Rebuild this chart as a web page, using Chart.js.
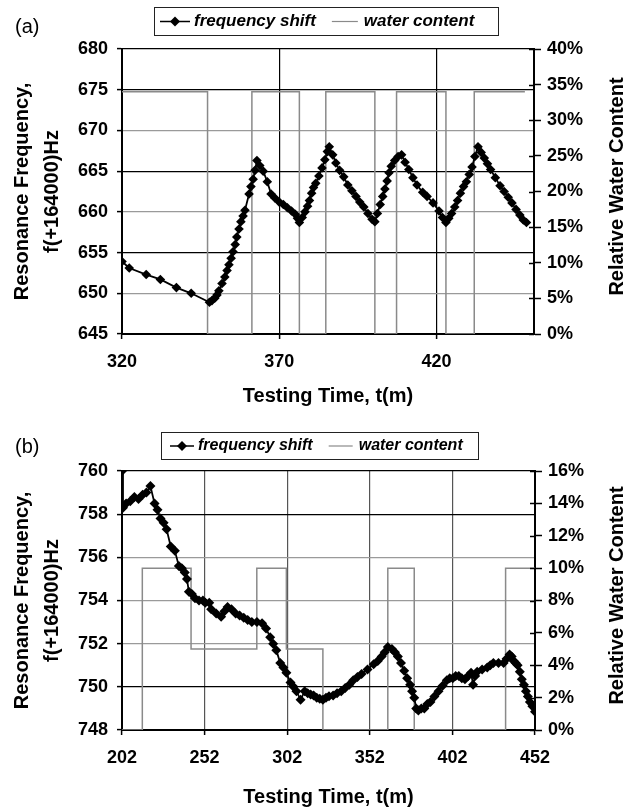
<!DOCTYPE html>
<html>
<head>
<meta charset="utf-8">
<script src="https://cdn.jsdelivr.net/npm/chart.js@4.4.1/dist/chart.umd.min.js"></script>
<style>
    html, body { margin: 0; padding: 0; background: #fff; }
    #wrapA { position: absolute; left: 0; top: 0; }
    #wrapB { position: absolute; left: 0; top: 410px; }
</style>
</head>
<body>
<div id="wrapA"><canvas id="chartA" width="637" height="410"></canvas></div>
<div id="wrapB"><canvas id="chartB" width="637" height="399"></canvas></div>
<script>
// ---------- DATA: PANEL (a) ----------
const timeA = [320.0, 322.3, 327.7, 332.2, 337.3, 342.0, 347.8, 348.6, 349.5, 350.2, 350.8, 351.8, 352.7, 353.4,
    354.0, 354.7, 355.3, 356.0, 356.5, 357.2, 357.8, 358.5, 359.1, 360.4, 361.0, 361.7, 362.3, 362.9, 363.8,
    364.9, 366.2, 367.4, 368.6, 370.0, 371.3, 372.6, 373.9, 375.1, 375.8, 376.4, 377.3, 378.2, 379.0, 379.6,
    380.3, 380.9, 381.6, 382.6, 383.6, 384.5, 385.3, 385.9, 387.0, 388.0, 389.2, 390.5, 391.8, 393.1, 394.4,
    395.6, 396.9, 398.2, 399.5, 400.4, 401.2, 402.1, 402.9, 403.6, 404.3, 404.9, 405.6, 406.7, 407.8, 408.9,
    410.0, 411.2, 412.5, 413.8, 415.6, 417.0, 418.9, 420.8, 421.9, 423.0, 423.9, 424.8, 425.8, 426.7, 427.6,
    428.6, 429.5, 430.4, 431.3, 432.2, 433.2, 434.2, 435.2, 436.2, 437.2, 438.7, 440.2, 441.5, 442.8, 444.0,
    445.3, 446.5, 447.6, 448.6];
const freqA = [653.9, 653.1, 652.3, 651.7, 650.7, 650.0, 648.9, 649.1, 649.4, 649.8, 650.3, 651.2, 652.0, 652.8,
    653.5, 654.3, 655.1, 656.0, 656.9, 657.9, 658.8, 659.5, 660.2, 662.2, 663.1, 664.0, 665.1, 666.3, 665.7,
    665.0, 663.7, 662.2, 661.7, 661.2, 660.9, 660.5, 660.1, 659.7, 659.2, 658.7, 659.3, 660.0, 660.7, 661.4,
    662.3, 663.0, 663.5, 664.4, 665.4, 666.4, 667.4, 668.0, 667.0, 666.0, 665.1, 664.3, 663.3, 662.6, 661.9,
    661.2, 660.6, 659.8, 659.1, 658.8, 659.8, 660.9, 661.9, 662.8, 663.8, 664.8, 665.6, 666.3, 666.8, 667.0,
    666.1, 665.2, 664.2, 663.3, 662.4, 661.9, 661.1, 660.1, 659.3, 658.7, 659.2, 659.8, 660.6, 661.4, 662.3,
    663.1, 663.7, 664.6, 665.5, 666.8, 668.0, 667.3, 666.6, 665.9, 665.2, 664.2, 663.2, 662.5, 661.8, 661.1,
    660.3, 659.6, 659.0, 658.7];
const waterTimeA = [320, 347.2, 361.3, 376.4, 384.8, 400.4, 407.3, 423.0, 432.0, 448.1];
const waterA = [34, 0, 34, 0, 34, 0, 34, 0, 34, 34];

const xTicksA = [320, 370, 420];
const yTicksA = [645, 650, 655, 660, 665, 670, 675, 680];
const y1TicksA = [0, 5, 10, 15, 20, 25, 30, 35, 40];
const xDarkA = [370, 420];
const yDarkA = [655, 665, 675, 680];

// ---------- DATA: PANEL (b) ----------
const timeB = [202.0, 202.6, 204.5, 207.0, 209.5, 212.0, 214.5, 216.8, 219.2, 221.7, 223.5, 225.3, 227.2, 229.0,
    231.5, 234.0, 236.4, 238.2, 240.0, 241.3, 242.5, 244.3, 246.2, 248.6, 251.0, 252.4, 254.8, 256.0, 259.0,
    262.0, 264.0, 265.9, 268.3, 270.8, 273.2, 275.7, 278.1, 280.6, 283.7, 286.8, 289.2, 291.7, 293.5, 295.4,
    297.8, 299.7, 301.5, 304.0, 305.8, 307.6, 310.1, 312.6, 314.4, 316.2, 318.0, 319.9, 321.7, 323.6, 325.5,
    327.3, 329.8, 332.2, 334.7, 337.1, 339.6, 342.0, 344.5, 347.0, 350.6, 354.3, 356.8, 359.2, 361.0, 362.9,
    365.4, 367.2, 369.0, 370.9, 372.8, 374.6, 376.4, 377.6, 378.9, 380.1, 381.4, 383.2, 385.0, 386.8, 388.7,
    391.1, 393.6, 396.1, 398.6, 400.4, 402.2, 404.0, 405.9, 407.7, 409.6, 411.5, 413.3, 414.5, 415.8, 417.0,
    420.0, 423.1, 424.9, 426.8, 429.9, 433.0, 434.8, 436.6, 437.9, 439.1, 440.3, 441.5, 442.8, 444.0, 445.3,
    446.5, 447.7, 448.9, 450.4, 452.0];
const freqB = [760.0, 758.3, 758.5, 758.6, 758.8, 758.7, 758.9, 759.0, 759.3, 758.5, 758.2, 757.8, 757.6, 757.3,
    756.5, 756.3, 755.6, 755.5, 755.3, 755.0, 754.4, 754.3, 754.1, 754.0, 754.0, 753.9, 753.9, 753.6, 753.4,
    753.25, 753.5, 753.7, 753.6, 753.4, 753.3, 753.2, 753.1, 753.0, 753.0, 752.95, 752.7, 752.3, 752.0, 751.7,
    751.1, 750.9, 750.65, 750.2, 750.0, 749.8, 749.4, 749.8, 749.7, 749.64, 749.6, 749.5, 749.45, 749.4, 749.5,
    749.56, 749.6, 749.7, 749.8, 749.95, 750.1, 750.3, 750.45, 750.6, 750.8, 751.05, 751.2, 751.4, 751.6, 751.85,
    751.75, 751.6, 751.4, 751.1, 750.75, 750.4, 750.1, 749.8, 749.5, 749.0, 748.9, 749.0, 749.0, 749.2, 749.3,
    749.55, 749.8, 750.05, 750.3, 750.4, 750.4, 750.5, 750.5, 750.4, 750.35, 750.5, 750.65, 750.1, 750.5, 750.7,
    750.8, 750.9, 751.0, 751.1, 751.1, 751.1, 751.3, 751.5, 751.4, 751.2, 751.1, 751.0, 750.7, 750.35, 750.1,
    749.8, 749.55, 749.3, 749.1, 748.85];
const waterTimeB = [202, 214.3, 243.8, 283.6, 301.5, 323.6, 362.9, 378.9, 434.2, 452];
const waterB = [0, 10, 5, 10, 5, 0, 10, 0, 10, 10];

const xTicksB = [202, 252, 302, 352, 402, 452];
const yTicksB = [748, 750, 752, 754, 756, 758, 760];
const y1TicksB = [0, 2, 4, 6, 8, 10, 12, 14, 16];
const xDarkB = [];
const yDarkB = [750, 758, 760];

// ---------- COMMON STYLE ----------
const FONT = '"Liberation Sans", Arial, sans-serif';
const pts = (xs, ys) => xs.map((x, i) => ({ x: x, y: ys[i] }));

// ---------- DECOR PLUGIN (tag, legend box, right title, inner ticks) ----------
const decorPlugin = {
    id: 'decor',
    afterDraw(chart, args, opts) {
        const ctx = chart.ctx;
        const area = chart.chartArea;
        ctx.save();

        // right axis ticks cross the axis line
        const y1 = chart.scales.y1;
        ctx.strokeStyle = '#000';
        ctx.lineWidth = 1.5;
        y1.ticks.forEach(t => {
            const py = Math.round(y1.getPixelForValue(t.value)) + 0.5;
            ctx.beginPath();
            ctx.moveTo(area.right - 5, py);
            ctx.lineTo(area.right, py);
            ctx.stroke();
        });

        // panel tag
        ctx.fillStyle = '#000';
        ctx.font = '20px ' + FONT;
        ctx.textAlign = 'left';
        ctx.textBaseline = 'middle';
        ctx.fillText(opts.tag, opts.tagX, opts.tagY);

        // right axis title (reads bottom to top)
        ctx.save();
        ctx.translate(opts.rightTitleX, (area.top + area.bottom) / 2 - 5);
        ctx.rotate(-Math.PI / 2);
        ctx.textAlign = 'center';
        ctx.font = 'bold 20px ' + FONT;
        ctx.fillText(opts.rightTitle, 0, 0);
        ctx.restore();

        // legend box
        const [bx, by, bw, bh] = opts.box;
        ctx.strokeStyle = '#222';
        ctx.lineWidth = 1;
        ctx.strokeRect(bx + 0.5, by + 0.5, bw, bh);
        const cy = by + bh / 2 + 0.5;
        const ds = chart.data.datasets;
        ctx.font = 'italic bold ' + opts.fontSize + 'px ' + FONT;
        ctx.textAlign = 'left';

        let x = bx + opts.pad;
        ctx.strokeStyle = ds[0].borderColor;
        ctx.lineWidth = 1.5;
        ctx.beginPath();
        ctx.moveTo(x, cy);
        ctx.lineTo(x + opts.iconW, cy);
        ctx.stroke();
        const mx = x + opts.iconW / 2;
        ctx.fillStyle = '#000';
        ctx.beginPath();
        ctx.moveTo(mx, cy - 5);
        ctx.lineTo(mx + 5, cy);
        ctx.lineTo(mx, cy + 5);
        ctx.lineTo(mx - 5, cy);
        ctx.closePath();
        ctx.fill();
        x += opts.iconW + opts.gap;
        ctx.fillText(ds[0].label, x, cy);
        x += ctx.measureText(ds[0].label).width + opts.itemGap;

        ctx.strokeStyle = ds[1].borderColor;
        ctx.lineWidth = 1.2;
        ctx.beginPath();
        ctx.moveTo(x, cy);
        ctx.lineTo(x + opts.iconW2, cy);
        ctx.stroke();
        x += opts.iconW2 + opts.gap2;
        ctx.fillStyle = '#000';
        ctx.fillText(ds[1].label, x, cy);

        ctx.restore();
    }
};

// ---------- CHART BUILDER ----------
function buildChart(id, cfg) {
    const tickFont = { family: FONT, size: 18, weight: 'bold' };
    return new Chart(document.getElementById(id), {
        type: 'line',
        data: {
            datasets: [
                {
                    label: 'frequency shift',
                    data: pts(cfg.time, cfg.freq),
                    yAxisID: 'y',
                    borderColor: '#000',
                    borderWidth: 1.8,
                    pointStyle: 'rectRot',
                    pointRadius: cfg.markerSize,
                    pointBackgroundColor: '#000',
                    pointBorderColor: '#000',
                    pointBorderWidth: 0,
                    tension: 0
                },
                {
                    label: 'water content',
                    data: pts(cfg.waterTime, cfg.water),
                    yAxisID: 'y1',
                    borderColor: '#8a8a8a',
                    borderWidth: 1.5,
                    pointRadius: 0,
                    stepped: 'before'
                }
            ]
        },
        options: {
            responsive: false,
            animation: false,
            events: [],
            layout: { padding: { top: cfg.top, left: 0, right: 0, bottom: 0 } },
            plugins: {
                legend: { display: false },
                tooltip: { enabled: false },
                decor: cfg.decor
            },
            scales: {
                x: {
                    type: 'linear',
                    min: cfg.xMin,
                    max: cfg.xMax,
                    afterBuildTicks: s => { s.ticks = cfg.xTicks.map(v => ({ value: v })); },
                    afterFit: s => { s.height = cfg.xHeight; },
                    grid: {
                        color: c => (cfg.xDark.includes(c.tick.value) ? '#000' : cfg.xGridColor),
                        lineWidth: 1.2,
                        tickLength: 5,
                        tickColor: '#000',
                        tickWidth: 1.5
                    },
                    border: { color: '#000', width: 2 },
                    ticks: { color: '#000', font: tickFont, padding: 12, maxRotation: 0 },
                    title: {
                        display: true,
                        text: 'Testing Time, t(m)',
                        color: '#000',
                        font: { family: FONT, size: 20, weight: 'bold', lineHeight: 1.2 },
                        padding: { top: 0, bottom: cfg.xTitlePad }
                    }
                },
                y: {
                    position: 'left',
                    min: cfg.yTicks[0],
                    max: cfg.yTicks[cfg.yTicks.length - 1],
                    afterBuildTicks: s => { s.ticks = cfg.yTicks.map(v => ({ value: v })); },
                    afterFit: s => { s.width = 122; },
                    grid: {
                        color: c => (cfg.yDark.includes(c.tick.value) ? '#000' : '#9a9a9a'),
                        lineWidth: 1.2,
                        tickLength: 5,
                        tickColor: '#000',
                        tickWidth: 1.5
                    },
                    border: { color: '#000', width: 2 },
                    ticks: { color: '#000', font: tickFont, padding: 9 },
                    title: {
                        display: true,
                        text: ['Resonance Frequency,', 'f(+164000)Hz'],
                        color: '#000',
                        font: { family: FONT, size: 20, weight: 'bold', lineHeight: 1.5 },
                        padding: { top: 7, bottom: 0 }
                    }
                },
                y1: {
                    position: 'right',
                    min: cfg.y1Ticks[0],
                    max: cfg.y1Ticks[cfg.y1Ticks.length - 1],
                    afterBuildTicks: s => { s.ticks = cfg.y1Ticks.map(v => ({ value: v })); },
                    afterFit: s => { s.width = 637 - cfg.right; },
                    grid: {
                        drawOnChartArea: false,
                        tickLength: 7,
                        tickColor: '#000',
                        tickWidth: 1.5
                    },
                    border: { color: '#000', width: 2 },
                    ticks: { color: '#000', font: tickFont, padding: 6, callback: v => v + '%' }
                }
            }
        },
        plugins: [decorPlugin]
    });
}

// ---------- START ----------
buildChart('chartA', {
    time: timeA, freq: freqA, waterTime: waterTimeA, water: waterA,
    xMin: 320, xMax: 451, xTicks: xTicksA, yTicks: yTicksA, y1Ticks: y1TicksA,
    xDark: xDarkA, yDark: yDarkA, xGridColor: '#999', markerSize: 4.8,
    top: 49, right: 534, xHeight: 76, xTitlePad: 2,
    decor: {
        tag: '(a)', tagX: 15, tagY: 27,
        rightTitle: 'Relative Water Content', rightTitleX: 617,
        box: [154, 7, 344, 28], fontSize: 17,
        pad: 6, iconW: 30, gap: 4, itemGap: 16, iconW2: 26, gap2: 6
    }
});

buildChart('chartB', {
    time: timeB, freq: freqB, waterTime: waterTimeB, water: waterB,
    xMin: 202, xMax: 452, xTicks: xTicksB, yTicks: yTicksB, y1Ticks: y1TicksB,
    xDark: xDarkB, yDark: yDarkB, xGridColor: '#555', markerSize: 5,
    top: 61, right: 535, xHeight: 79, xTitlePad: 0,
    decor: {
        tag: '(b)', tagX: 15, tagY: 37,
        rightTitle: 'Relative Water Content', rightTitleX: 617,
        box: [161, 22, 317, 27], fontSize: 16,
        pad: 9, iconW: 24, gap: 4, itemGap: 16, iconW2: 24, gap2: 6
    }
});
</script>
</body>
</html>
